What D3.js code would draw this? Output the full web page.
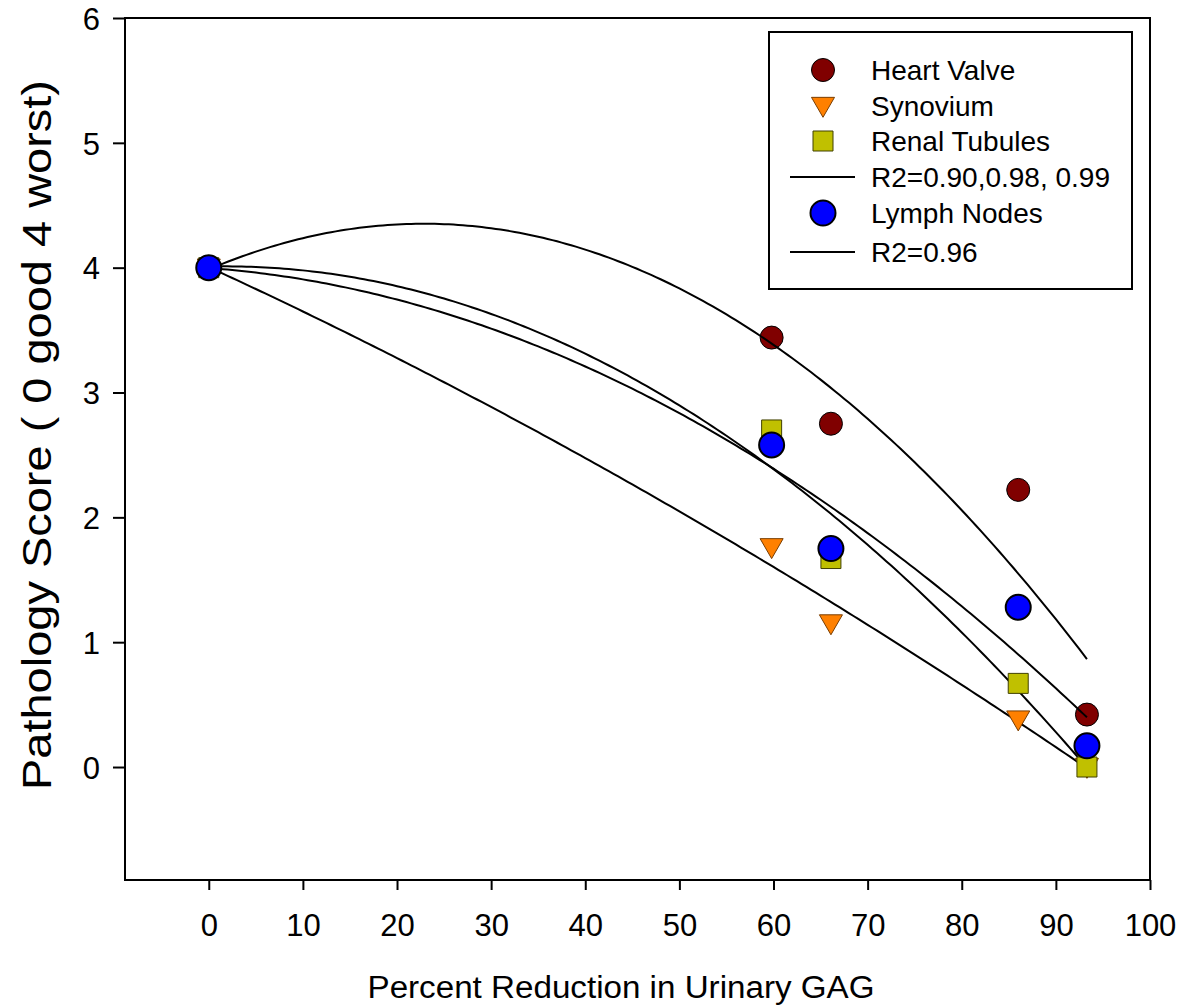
<!DOCTYPE html>
<html>
<head>
<meta charset="utf-8">
<script src="https://cdn.jsdelivr.net/npm/d3@7"></script>
<style>
  body { margin: 0; background: #fff; }
  text { font-family: "Liberation Sans", Arial, sans-serif; fill: #000; }
</style>
</head>
<body>
<div class="chart"></div>
<script>
// data
var reduction = [0, 59.8, 66.1, 86, 93.3]
var heartValve = [4, 3.44, 2.75, 2.22, 0.42]
var synovium = [4, 1.76, 1.15, 0.38, 0.0]
var renalTubules = [4, 2.70, 1.67, 0.67, 0.0]
var lymphNodes = [4, 2.58, 1.75, 1.28, 0.17]
var xTicks = [0, 10, 20, 30, 40, 50, 60, 70, 80, 90, 100]
var yTicks = [0, 1, 2, 3, 4, 5, 6]
var legendLabels = ["Heart Valve", "Synovium", "Renal Tubules", "R2=0.90,0.98, 0.99", "Lymph Nodes", "R2=0.96"]

var W = 1182, H = 1006
var pLeft = 125, pRight = 1150, pTop = 18, pBottom = 880

var x = d3.scaleLinear().domain([-8.9, 100]).range([pLeft, pRight])
var y = d3.scaleLinear().domain([-0.905, 6]).range([pBottom, pTop])

// quadratic least squares, same kind of fit as the original regression lines
function quadFit(xs, ys) {
    var s = [0, 0, 0, 0, 0], t = [0, 0, 0]
    xs.forEach(function(xi, i) {
        for (var k = 0; k < 5; k++) s[k] += Math.pow(xi, k)
        for (var k = 0; k < 3; k++) t[k] += ys[i] * Math.pow(xi, k)
    })
    var m = [[s[0], s[1], s[2], t[0]], [s[1], s[2], s[3], t[1]], [s[2], s[3], s[4], t[2]]]
    for (var c = 0; c < 3; c++) {
        for (var r = c + 1; r < 3; r++) {
            var f = m[r][c] / m[c][c]
            for (var k = c; k < 4; k++) m[r][k] -= f * m[c][k]
        }
    }
    var b = [0, 0, 0]
    for (var r = 2; r >= 0; r--) {
        var v = m[r][3]
        for (var k = r + 1; k < 3; k++) v -= m[r][k] * b[k]
        b[r] = v / m[r][r]
    }
    return function(xv) { return b[0] + b[1] * xv + b[2] * xv * xv }
}

var svg = d3.select(".chart").append("svg")
    .attr("width", W).attr("height", H)

// axes
var xAxis = d3.axisBottom(x).tickValues(xTicks).tickFormat(d3.format("d"))
    .tickSize(10).tickSizeOuter(0).tickPadding(24)
var yAxis = d3.axisLeft(y).tickValues(yTicks).tickFormat(d3.format("d"))
    .tickSize(12).tickSizeOuter(0).tickPadding(13)

var gx = svg.append("g").attr("transform", "translate(0," + pBottom + ")").call(xAxis)
var gy = svg.append("g").attr("transform", "translate(" + pLeft + ",0)").call(yAxis)
;[gx, gy].forEach(function(g) {
    g.select(".domain").remove()
    g.attr("font-size", null).attr("font-family", null)
    g.selectAll("line").attr("stroke", "#000").attr("stroke-width", 2)
    g.selectAll("text").style("font-size", "31px").attr("fill", "#000")
})
gy.selectAll("text").attr("dy", "0.36em")

svg.append("rect")
    .attr("x", pLeft).attr("y", pTop).attr("width", pRight - pLeft).attr("height", pBottom - pTop)
    .attr("fill", "none").attr("stroke", "#000").attr("stroke-width", 2)

// titles
svg.append("text")
    .attr("x", 621).attr("y", 998)
    .attr("text-anchor", "middle").style("font-size", "31px")
    .attr("textLength", 507).attr("lengthAdjust", "spacingAndGlyphs")
    .text("Percent Reduction in Urinary GAG")
svg.append("text")
    .attr("transform", "translate(51,435) rotate(-90)")
    .attr("text-anchor", "middle").style("font-size", "41px")
    .attr("textLength", 710).attr("lengthAdjust", "spacingAndGlyphs")
    .text("Pathology Score ( 0 good 4 worst)")

function pts(vals) { return reduction.map(function(d, i) { return [d, vals[i]] }) }

function circles(vals, fill, r, sw) {
    svg.append("g").selectAll("circle").data(pts(vals)).join("circle")
        .attr("cx", function(d) { return x(d[0]) })
        .attr("cy", function(d) { return y(d[1]) })
        .attr("r", r).attr("fill", fill).attr("stroke", "#000").attr("stroke-width", sw)
}

var tri = d3.symbol().type(d3.symbolTriangle).size(230)
var sq = d3.symbol().type(d3.symbolSquare).size(400)

// heart valve markers sit under the curves
circles(heartValve, "#800000", 11.5, 1)

// fit curves
var xsFine = d3.range(0, 93.3, 0.5).concat([93.3])
var line = d3.line().x(function(d) { return x(d[0]) }).y(function(d) { return y(d[1]) })
;[heartValve, synovium, renalTubules, lymphNodes].forEach(function(vals) {
    var f = quadFit(reduction, vals)
    svg.append("path")
        .attr("d", line(xsFine.map(function(xv) { return [xv, f(xv)] })))
        .attr("fill", "none").attr("stroke", "#000").attr("stroke-width", 2)
})

svg.append("g").selectAll("path").data(pts(synovium)).join("path")
    .attr("d", tri)
    .attr("transform", function(d) { return "translate(" + x(d[0]) + "," + (y(d[1]) - 2) + ") rotate(180)" })
    .attr("fill", "#ff8000").attr("stroke", "#7a3d00").attr("stroke-width", 1)

svg.append("g").selectAll("path").data(pts(renalTubules)).join("path")
    .attr("d", sq)
    .attr("transform", function(d) { return "translate(" + x(d[0]) + "," + y(d[1]) + ")" })
    .attr("fill", "#c0c000").attr("stroke", "#404000").attr("stroke-width", 1)

circles(lymphNodes, "#0000ff", 12.5, 2)

// legend
var lg = svg.append("g")
lg.append("rect").attr("x", 769).attr("y", 32).attr("width", 363).attr("height", 257)
    .attr("fill", "#fff").attr("stroke", "#000").attr("stroke-width", 2)
var rowY = [70, 106, 141, 177, 213, 252]
legendLabels.forEach(function(lab, i) {
    lg.append("text").attr("x", 871).attr("y", rowY[i]).attr("dy", "0.36em")
        .style("font-size", "28px").text(lab)
})
var sx = 823
lg.append("circle").attr("cx", sx).attr("cy", rowY[0]).attr("r", 11.5)
    .attr("fill", "#800000").attr("stroke", "#000")
lg.append("path").attr("d", tri).attr("transform", "translate(" + sx + "," + (rowY[1] - 2) + ") rotate(180)")
    .attr("fill", "#ff8000").attr("stroke", "#7a3d00")
lg.append("path").attr("d", sq).attr("transform", "translate(" + sx + "," + rowY[2] + ")")
    .attr("fill", "#c0c000").attr("stroke", "#404000")
lg.append("line").attr("x1", 790).attr("x2", 855).attr("y1", rowY[3]).attr("y2", rowY[3])
    .attr("stroke", "#000").attr("stroke-width", 2)
lg.append("circle").attr("cx", sx).attr("cy", rowY[4]).attr("r", 12.5)
    .attr("fill", "#0000ff").attr("stroke", "#000").attr("stroke-width", 2)
lg.append("line").attr("x1", 790).attr("x2", 855).attr("y1", rowY[5]).attr("y2", rowY[5])
    .attr("stroke", "#000").attr("stroke-width", 2)
</script>
</body>
</html>
